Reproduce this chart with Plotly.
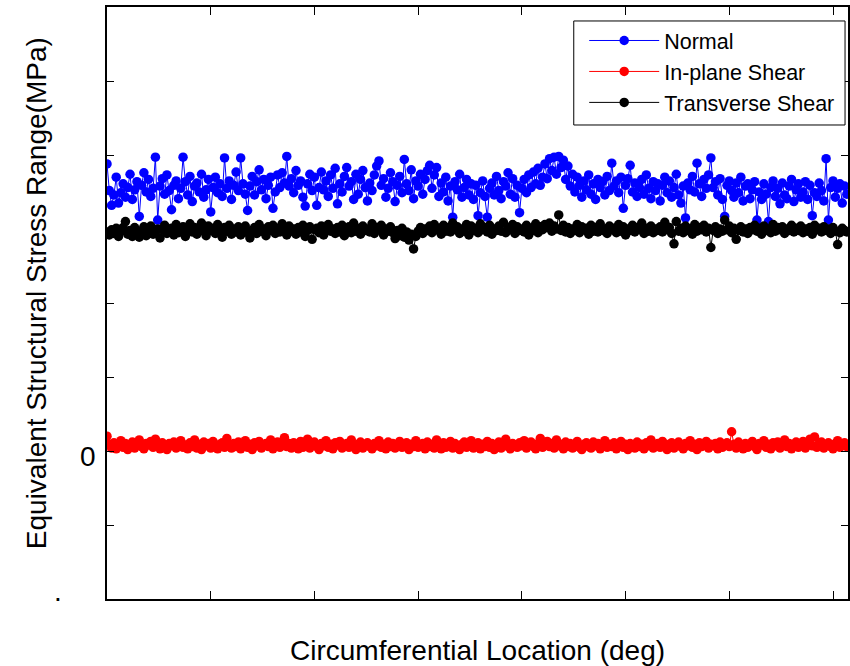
import numpy as np
import plotly.graph_objects as go

# Circumferential sampling step (deg)
angle_step = 1.0

# Equivalent structural stress range per location (MPa)
normal = [
    38.8, 35.2, 33.2, 34.6, 37.0, 33.5, 34.9, 36.1, 34.3, 35.6,
    37.4, 34.0, 35.3, 36.4, 31.7, 35.9, 37.6, 35.0, 36.7, 34.4,
    35.5, 39.7, 31.2, 35.8, 36.8, 34.7, 37.3, 35.2, 32.6, 35.9,
    36.5, 34.1, 35.5, 39.7, 36.4, 34.6, 37.1, 33.7, 35.8, 36.2,
    35.0, 37.4, 34.3, 35.3, 36.7, 32.3, 35.6, 37.0, 34.9, 36.1,
    34.4, 39.6, 35.5, 36.5, 34.0, 35.9, 37.7, 35.2, 39.6, 36.1,
    34.7, 32.5, 35.8, 37.1, 34.6, 36.4, 38.0, 35.3, 36.7, 34.1,
    35.9, 37.0, 32.8, 35.0, 37.3, 35.6, 37.6, 36.2, 39.8, 35.8,
    36.8, 34.9, 37.9, 35.9, 36.5, 34.3, 33.1, 36.1, 37.4, 35.2,
    37.0, 33.2, 35.6, 37.7, 35.3, 36.5, 34.4, 37.3, 35.5, 38.2,
    33.4, 36.1, 35.0, 37.1, 38.3, 35.8, 36.4, 34.0, 37.4, 34.7,
    36.7, 37.9, 35.6, 33.8, 36.2, 35.2, 37.3, 38.5, 39.2, 35.9,
    36.8, 34.3, 35.5, 37.6, 36.4, 33.7, 35.9, 37.1, 34.9, 39.4,
    36.1, 35.2, 38.0, 34.1, 36.5, 35.8, 37.4, 34.7, 36.7, 37.9,
    38.6, 35.5, 37.3, 38.3, 34.4, 36.2, 35.0, 37.0, 33.8, 35.8,
    31.6, 36.4, 35.3, 37.4, 34.3, 35.6, 36.7, 34.6, 36.1, 34.0,
    35.9, 31.8, 34.9, 36.5, 34.4, 31.6, 35.5, 36.2, 34.6, 37.1,
    35.2, 34.1, 36.4, 35.8, 37.6, 34.7, 36.8, 34.3, 35.9, 32.2,
    35.5, 36.7, 34.9, 37.3, 35.6, 37.7, 36.1, 38.2, 35.9, 37.0,
    38.8, 36.8, 39.5, 37.9, 39.7, 37.4, 39.8, 38.3, 39.3, 36.7,
    38.5, 35.8, 37.4, 35.0, 37.0, 35.9, 34.3, 36.5, 35.3, 37.3,
    34.7, 36.1, 34.0, 36.7, 35.6, 36.4, 34.6, 37.1, 35.2, 38.9,
    35.8, 36.5, 34.9, 37.0, 32.8, 35.9, 36.8, 38.6, 35.0, 36.2,
    34.4, 35.6, 36.7, 34.7, 37.3, 35.5, 34.1, 36.4, 35.2, 36.1,
    33.8, 35.9, 37.0, 34.9, 36.5, 34.3, 35.6, 37.4, 34.6, 33.5,
    35.8, 31.5, 36.2, 35.3, 37.1, 35.0, 38.9, 36.1, 34.4, 36.7,
    35.5, 37.3, 39.6, 35.6, 36.4, 34.6, 36.8, 34.0, 31.7, 35.9,
    36.5, 35.2, 34.3, 36.2, 34.9, 37.0, 33.8, 35.8, 36.1, 34.1,
    35.3, 36.4, 31.2, 35.0, 34.0, 36.1, 34.7, 31.0, 35.6, 36.5,
    34.4, 35.5, 33.4, 36.2, 34.6, 34.1, 35.8, 36.7, 33.7, 35.3,
    36.1, 34.3, 35.0, 36.4, 34.0, 35.9, 31.8, 34.9, 34.4, 36.2,
    35.2, 33.8, 39.5, 31.2, 35.6, 36.5, 34.3, 35.5, 36.1, 33.5,
    35.8, 34.7,
]

in_plane_shear = [
    2.0, 0.9, 0.4, 1.1, 0.3, 0.8, 1.4, 0.5, 1.0, 0.2,
    0.7, 1.2, 0.4, 0.9, 1.5, 0.6, 0.3, 1.0, 0.8, 1.3,
    0.5, 1.6, 0.9, 0.3, 1.1, 0.6, 0.2, 1.0, 0.7, 1.2,
    0.4, 0.9, 1.4, 0.5, 0.8, 0.3, 1.1, 0.6, 1.5, 0.4,
    0.9, 0.2, 1.2, 0.7, 1.0, 0.4, 1.3, 0.6, 0.3, 0.9,
    1.1, 0.5, 1.7, 0.8, 0.4, 1.0, 0.6, 1.2, 0.3, 0.8,
    1.4, 0.5, 0.9, 0.2, 1.1, 0.7, 1.3, 0.4, 0.8, 1.0,
    0.6, 1.5, 0.3, 0.9, 1.2, 0.5, 0.8, 1.8, 0.6, 1.0,
    0.4, 1.1, 0.7, 0.3, 1.3, 0.5, 0.9, 1.6, 0.4, 0.8,
    1.2, 0.6, 0.2, 1.0, 0.7, 1.4, 0.5, 0.9, 0.3, 1.1,
    0.8, 1.3, 0.4, 0.7, 1.0, 0.5, 1.5, 0.6, 0.2, 0.9,
    1.2, 0.4, 0.8, 1.1, 0.6, 0.3, 1.0, 0.7, 1.4, 0.5,
    0.9, 0.3, 1.2, 0.6, 1.0, 0.4, 0.8, 1.3, 0.5, 0.7,
    1.1, 0.2, 0.9, 0.6, 1.4, 0.5, 0.8, 1.0, 0.3, 1.2,
    0.6, 0.9, 0.4, 1.5, 0.7, 0.3, 1.1, 0.5, 0.8, 1.3,
    0.4, 1.0, 0.6, 0.2, 0.9, 1.2, 0.5, 0.7, 1.4, 0.4,
    0.8, 1.1, 0.3, 0.9, 0.6, 1.3, 0.5, 1.0, 0.2, 0.7,
    1.2, 0.4, 0.9, 1.6, 0.6, 0.3, 1.0, 0.8, 0.5, 1.1,
    0.7, 1.4, 0.4, 0.9, 1.2, 0.6, 0.3, 1.0, 1.7, 0.5,
    0.8, 1.3, 0.6, 1.0, 0.4, 1.5, 0.7, 0.9, 0.3, 1.2,
    0.6, 1.0, 0.4, 0.8, 1.3, 0.5, 0.2, 0.9, 1.1, 0.6,
    0.4, 1.2, 0.7, 1.0, 0.3, 0.8, 1.4, 0.5, 0.9, 0.6,
    1.1, 0.3, 0.8, 1.3, 0.5, 0.9, 0.2, 1.0, 0.7, 0.4,
    1.2, 0.6, 0.9, 0.3, 1.1, 0.7, 1.5, 0.4, 0.8, 1.0,
    0.5, 1.3, 0.6, 0.2, 0.9, 1.1, 0.4, 0.8, 1.2, 0.6,
    0.3, 1.0, 0.7, 1.4, 0.5, 0.9, 0.2, 1.1, 0.6, 0.8,
    1.3, 0.4, 0.9, 0.7, 1.0, 0.3, 1.2, 0.5, 0.8, 1.1,
    0.6, 2.6, 0.9, 0.4, 1.2, 0.7, 0.3, 1.0, 0.5, 0.9,
    1.3, 0.6, 0.2, 1.0, 0.8, 1.4, 0.5, 0.9, 0.3, 1.1,
    0.7, 1.2, 0.4, 0.8, 1.5, 0.6, 1.0, 0.3, 0.9, 1.2,
    0.5, 0.8, 1.3, 0.4, 1.0, 1.6, 0.7, 1.9, 0.5, 0.9,
    1.2, 0.4, 0.8, 1.1, 0.6, 0.3, 1.0, 1.4, 0.5, 0.8,
    1.1, 0.6,
]

transverse_shear = [
    29.6, 29.2, 29.9, 29.4, 30.1, 29.0, 29.7, 30.2, 31.0, 29.3,
    29.8, 29.0, 30.2, 29.5, 28.9, 29.7, 30.3, 29.1, 29.8, 30.4,
    29.3, 29.6, 30.0, 28.8, 29.9, 30.5, 29.4, 29.7, 30.1, 29.2,
    30.6, 29.5, 29.9, 30.3, 29.0, 29.8, 30.7, 29.6, 30.2, 29.3,
    30.0, 30.8, 29.7, 29.1, 30.4, 29.8, 30.1, 29.4, 30.6, 29.9,
    28.9, 30.2, 29.7, 30.5, 29.3, 30.0, 29.6, 30.3, 29.2, 29.9,
    30.4, 29.5, 28.8, 29.8, 30.2, 29.4, 30.6, 29.7, 30.0, 29.1,
    30.3, 29.8, 30.5, 29.4, 30.1, 29.6, 30.7, 29.9, 29.2, 30.4,
    29.7, 30.0, 29.3, 30.2, 29.6, 30.5, 29.0, 29.8, 30.3, 28.6,
    29.9, 30.1, 29.5, 30.4, 29.2, 29.8, 30.6, 29.7, 30.0, 29.4,
    30.2, 29.6, 30.5, 29.1, 29.9, 30.3, 29.5, 30.8, 29.7, 30.1,
    29.3, 30.4, 29.8, 30.0, 29.6, 30.7, 29.4, 30.2, 29.9, 30.5,
    29.2, 30.0, 29.7, 30.3, 29.5, 28.7, 29.8, 29.1, 30.1, 28.9,
    29.6, 28.5, 29.3, 27.3, 29.0, 29.7, 30.2, 29.4, 30.0, 29.8,
    30.4, 29.5, 30.6, 29.9, 30.1, 29.3, 30.5, 29.7, 30.2, 29.6,
    30.8, 29.9, 30.3, 29.4, 30.0, 29.7, 30.6, 29.2, 30.4, 29.8,
    30.1, 29.5, 30.7, 29.9, 30.2, 29.6, 30.5, 29.3, 30.0, 29.8,
    30.4, 29.7, 30.9, 29.5, 30.2, 29.9, 30.6, 29.4, 30.3, 29.8,
    30.0, 29.6, 30.5, 29.2, 30.1, 29.8, 30.7, 29.5, 30.3, 29.9,
    30.6, 30.2, 30.8, 29.7, 30.4, 30.0, 31.9, 29.8, 30.5, 29.6,
    30.2, 29.4, 30.0, 29.8, 30.6, 29.5, 30.3, 29.9, 30.1, 29.3,
    30.5, 29.7, 30.2, 29.6, 30.7, 29.8, 30.0, 29.4, 30.4, 29.9,
    30.1, 29.5, 30.6, 29.7, 30.3, 29.2, 30.0, 29.8, 30.5, 29.6,
    30.2, 29.9, 30.8, 29.4, 30.1, 29.7, 30.4, 29.5, 30.0, 29.8,
    30.3, 29.6, 30.9, 29.9, 30.2, 29.4, 28.0, 31.0, 29.7, 30.1,
    29.5, 30.4, 29.8, 30.0, 29.3, 30.6, 29.7, 30.2, 29.9, 30.5,
    29.6, 30.1, 27.5, 29.8, 30.3, 29.4, 30.0, 29.7, 31.2, 29.9,
    30.4, 29.5, 30.1, 28.6, 29.8, 30.3, 29.6, 30.0, 29.4, 30.2,
    29.9, 30.5, 29.7, 30.1, 29.3, 30.4, 29.8, 30.0, 29.5, 30.6,
    29.7, 30.2, 29.9, 30.3, 29.4, 30.0, 29.8, 30.5, 29.6, 30.1,
    29.8, 30.4, 29.5, 30.0, 29.7, 30.2, 29.3, 30.5, 29.9, 30.1,
    29.6, 30.3, 29.8, 30.0, 29.4, 30.2, 29.7, 27.9, 29.5, 30.1,
    29.8, 29.6,
]

angles = np.arange(len(normal)) * angle_step

y_tickvals = [-20, -10, 0, 10, 20, 30, 40, 50, 60]
y_ticktext = ["", "", "0", "", "", "", "", "", ""]
x_tickvals = [0, 45, 90, 135, 180, 225, 270, 315]

series = [
    ("Normal", normal, "#0000FF"),
    ("In-plane Shear", in_plane_shear, "#FF0000"),
    ("Transverse Shear", transverse_shear, "#000000"),
]

fig = go.Figure()
for name, values, color in series:
    fig.add_trace(go.Scatter(
        x=angles, y=values, mode="lines+markers", name=name,
        line=dict(color=color, width=1),
        marker=dict(color=color, size=9.5),
    ))

font_family = "Liberation Sans, Arial, Helvetica, sans-serif"

fig.update_layout(
    width=850, height=666,
    margin=dict(l=107, r=0, t=7, b=67),
    paper_bgcolor="white", plot_bgcolor="white",
    font=dict(family=font_family, size=28, color="black"),
    showlegend=True,
    legend=dict(
        x=0.644, y=0.978, xanchor="left", yanchor="top",
        bgcolor="rgba(0,0,0,0)", borderwidth=0,
        font=dict(size=21.5, color="black"),
        itemwidth=70, tracegroupgap=0,
    ),
)

axis_style = dict(
    showline=True, linecolor="black", linewidth=1.5,
    mirror="ticks", ticks="inside", tickcolor="black", tickwidth=1,
    showgrid=False, zeroline=False,
)

fig.update_xaxes(
    **axis_style, range=[0, 321.5], tickvals=x_tickvals,
    showticklabels=False, ticklen=8,
    title=dict(text="Circumferential Location (deg)", font=dict(size=28), standoff=43),
)
fig.update_yaxes(
    **axis_style, range=[-20, 60], tickvals=y_tickvals, ticktext=y_ticktext,
    ticklen=7, ticklabelstandoff=4, ticklabelshift=5,
)

# Legend frame
fig.add_shape(
    type="rect", xref="paper", yref="paper",
    x0=0.6299, x1=0.9960, y0=0.8007, y1=0.9764,
    line=dict(color="black", width=1), fillcolor="white", layer="above",
)

# Y-axis title
fig.add_annotation(
    text="Equivalent Structural Stress Range(MPa)", textangle=-90,
    xref="paper", yref="paper", x=-0.0942, y=0.5169,
    xanchor="center", yanchor="middle", showarrow=False,
    font=dict(size=28, color="black"),
)

# Stray label below the axes
fig.add_annotation(
    text=".", xref="paper", yref="paper", x=-0.066, y=0.0135,
    xanchor="center", yanchor="middle", showarrow=False,
    font=dict(size=28, color="black"),
)

fig.write_html("out.html")
